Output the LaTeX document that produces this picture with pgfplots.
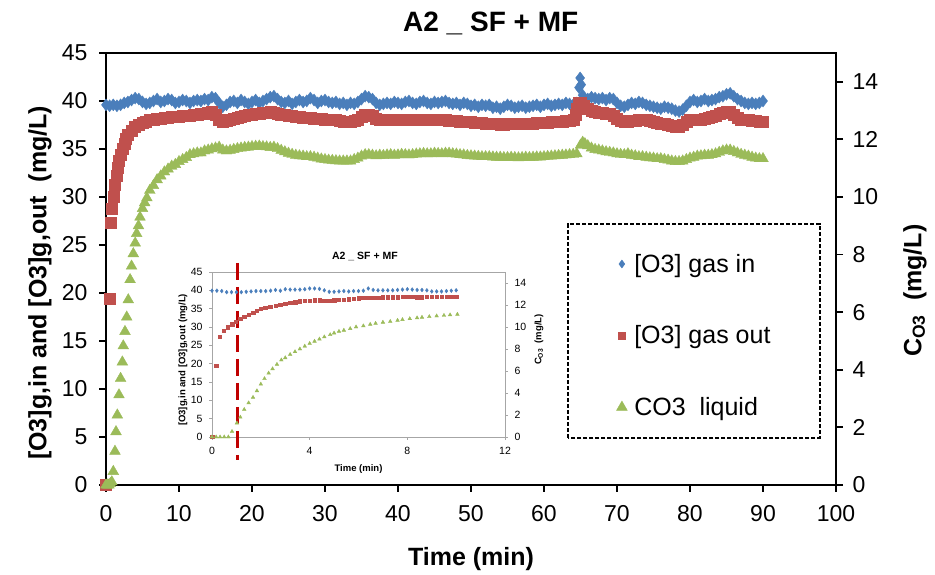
\documentclass[border=0pt]{standalone}
\usepackage{pgfplots}
\pgfplotsset{compat=1.18}
\usepackage{pgfplotstable}
\usepackage{fontspec}
\setmainfont{Liberation Sans}
\definecolor{cblue}{HTML}{4A7EBB}
\definecolor{cred}{HTML}{C0504D}
\definecolor{cgreen}{HTML}{9BBB59}
\definecolor{dashred}{HTML}{C00000}
\definecolor{inaxis}{HTML}{A6A6A6}

% ---------- main chart data ----------
\pgfplotstableread[row sep=\\]{x y\\
0 39.6\\ 0.5 39.5\\ 1 39.6\\ 1.5 39.5\\ 2 39.6\\ 2.5 39.8\\ 3 39.9\\ 3.5 40.1\\ 4 40.3\\ 4.5 40.2\\
5 39.9\\ 5.5 39.7\\ 6 39.8\\ 6.5 40.0\\ 7 40.2\\ 7.5 39.9\\ 8 40.0\\ 8.5 40.2\\ 9 40.1\\ 9.5 39.8\\
10 39.9\\ 10.5 40.1\\ 11 40.0\\ 11.5 39.8\\ 12 40.0\\ 12.5 40.1\\ 13 40.0\\ 13.5 40.2\\ 14 40.1\\ 14.5 40.4\\
15 40.3\\ 15.5 39.8\\ 16 39.4\\ 16.5 39.6\\ 17 39.9\\ 17.5 40.0\\ 18 39.8\\ 18.5 40.1\\ 19 39.9\\ 19.5 39.7\\
20 39.9\\ 20.5 40.1\\ 21 39.8\\ 21.5 40.0\\ 22 40.2\\ 22.5 40.4\\ 23 40.5\\ 23.5 40.2\\ 24 39.9\\ 24.5 39.8\\
25 40.0\\ 25.5 39.7\\ 26 39.9\\ 26.5 40.1\\ 27 39.9\\ 27.5 40.0\\ 28 40.3\\ 28.5 40.1\\ 29 39.8\\ 29.5 40.0\\
30 40.1\\ 30.5 39.9\\ 31 39.8\\ 31.5 39.9\\ 32 39.7\\ 32.5 39.8\\ 33 39.6\\ 33.5 39.8\\ 34 39.7\\ 34.5 39.9\\
35 40.2\\ 35.5 40.5\\ 36 40.4\\ 36.5 40.2\\ 37 39.8\\ 37.5 39.6\\ 38 39.7\\ 38.5 39.8\\ 39 39.7\\ 39.5 39.9\\
40 39.8\\ 40.5 39.7\\ 41 39.9\\ 41.5 40.0\\ 42 39.8\\ 42.5 39.7\\ 43 39.9\\ 43.5 40.0\\ 44 39.8\\ 44.5 39.7\\
45 39.9\\ 45.5 39.8\\ 46 39.9\\ 46.5 40.0\\ 47 39.8\\ 47.5 39.7\\ 48 39.8\\ 48.5 39.6\\ 49 39.8\\ 49.5 39.7\\
50 39.5\\ 50.5 39.6\\ 51 39.4\\ 51.5 39.6\\ 52 39.5\\ 52.5 39.6\\ 53 39.3\\ 53.5 39.4\\ 54 39.2\\ 54.5 39.4\\
55 39.6\\ 55.5 39.5\\ 56 39.3\\ 56.5 39.4\\ 57 39.5\\ 57.5 39.3\\ 58 39.4\\ 58.5 39.5\\ 59 39.6\\ 59.5 39.4\\
60 39.6\\ 60.5 39.7\\ 61 39.5\\ 61.5 39.6\\ 62 39.7\\ 62.5 39.6\\ 63 39.8\\ 63.5 39.7\\ 64 39.6\\ 64.5 39.8\\
64.8 41.4\\ 64.95 42.4\\ 65.1 41.7\\ 65.3 40.6\\ 65.5 40.3\\ 66 40.2\\ 66.5 40.4\\ 67 40.3\\ 67.5 40.2\\ 68 40.3\\
68.5 40.1\\ 69 40.3\\ 69.5 40.2\\ 70 39.8\\ 70.5 39.5\\ 71 39.4\\ 71.5 39.6\\ 72 39.8\\ 72.5 39.7\\ 73 39.9\\
73.5 39.8\\ 74 39.6\\ 74.5 39.5\\ 75 39.4\\ 75.5 39.3\\ 76 39.2\\ 76.5 39.4\\ 77 39.3\\ 77.5 39.2\\ 78 39.0\\
78.5 38.9\\ 79 39.1\\ 79.5 39.5\\ 80 39.9\\ 80.5 40.1\\ 81 39.9\\ 81.5 40.0\\ 82 40.2\\ 82.5 40.0\\ 83 40.1\\
83.5 40.2\\ 84 40.4\\ 84.5 40.5\\ 85 40.7\\ 85.5 40.8\\ 86 40.5\\ 86.5 40.2\\ 87 40.0\\ 87.5 39.8\\ 88 39.7\\
88.5 39.8\\ 89 39.7\\ 89.5 39.8\\ 90 40.0\\
}\blueMain

\pgfplotstableread[row sep=\\]{x y\\
0 0\\ 0.55 19.4\\ 0.65 27.3\\ 0.8 28.8\\ 1.0 30.0\\ 1.2 31.3\\ 1.4 32.2\\ 1.6 33.0\\ 1.8 33.8\\ 2.0 34.4\\
2.25 35.0\\ 2.5 35.5\\ 2.75 36.1\\ 3.0 36.5\\ 3.5 36.9\\ 4.0 37.3\\ 4.5 37.5\\ 5.0 37.7\\ 5.5 37.8\\ 6 38.0\\
6.5 38.1\\ 7 38.2\\ 7.5 38.2\\ 8 38.3\\ 8.5 38.3\\ 9 38.4\\ 9.5 38.4\\ 10 38.4\\ 10.5 38.5\\ 11 38.5\\
11.5 38.5\\ 12 38.6\\ 12.5 38.6\\ 13 38.7\\ 13.5 38.7\\ 14 38.8\\ 14.5 38.9\\ 15 38.6\\ 15.5 38.0\\ 16 37.8\\
16.5 37.9\\ 17 38.0\\ 17.5 38.2\\ 18 38.3\\ 18.5 38.4\\ 19 38.5\\ 19.5 38.6\\ 20 38.6\\ 20.5 38.7\\ 21 38.7\\
21.5 38.8\\ 22 38.8\\ 22.5 38.9\\ 23 38.8\\ 23.5 38.7\\ 24 38.6\\ 24.5 38.6\\ 25 38.5\\ 25.5 38.5\\ 26 38.4\\
26.5 38.4\\ 27 38.3\\ 27.5 38.3\\ 28 38.3\\ 28.5 38.2\\ 29 38.2\\ 29.5 38.2\\ 30 38.1\\ 30.5 38.1\\ 31 38.1\\
31.5 38.0\\ 32 37.9\\ 32.5 37.8\\ 33 37.8\\ 33.5 37.8\\ 34 37.9\\ 34.5 38.1\\ 35 38.4\\ 35.5 38.6\\ 36 38.6\\
36.5 38.5\\ 37 38.2\\ 37.5 38.0\\ 38 38.0\\ 38.5 38.0\\ 39 38.0\\ 39.5 38.0\\ 40 38.0\\ 40.5 38.0\\ 41 38.1\\
41.5 38.1\\ 42 38.0\\ 42.5 38.1\\ 43 38.1\\ 43.5 38.1\\ 44 38.1\\ 44.5 38.1\\ 45 38.0\\ 45.5 38.0\\ 46 38.0\\
46.5 38.0\\ 47 37.9\\ 47.5 37.9\\ 48 37.9\\ 48.5 37.8\\ 49 37.8\\ 49.5 37.8\\ 50 37.8\\ 50.5 37.7\\ 51 37.7\\
51.5 37.7\\ 52 37.6\\ 52.5 37.6\\ 53 37.6\\ 53.5 37.6\\ 54 37.5\\ 54.5 37.5\\ 55 37.6\\ 55.5 37.6\\ 56 37.6\\
56.5 37.6\\ 57 37.6\\ 57.5 37.6\\ 58 37.6\\ 58.5 37.6\\ 59 37.7\\ 59.5 37.7\\ 60 37.7\\ 60.5 37.7\\ 61 37.8\\
61.5 37.8\\ 62 37.8\\ 62.5 37.8\\ 63 37.9\\ 63.5 37.9\\ 64 38.0\\ 64.3 38.6\\ 64.5 39.2\\ 64.7 39.8\\ 65 39.8\\
65.5 39.5\\ 66 39.2\\ 66.5 39.0\\ 67 38.9\\ 67.5 38.8\\ 68 38.8\\ 68.5 38.7\\ 69 38.7\\ 69.5 38.5\\ 70 38.2\\
70.5 37.9\\ 71 37.8\\ 71.5 37.8\\ 72 37.9\\ 72.5 37.9\\ 73 38.0\\ 73.5 38.0\\ 74 38.0\\ 74.5 37.9\\ 75 37.8\\
75.5 37.7\\ 76 37.6\\ 76.5 37.6\\ 77 37.5\\ 77.5 37.4\\ 78 37.3\\ 78.5 37.3\\ 79 37.5\\ 79.5 37.8\\ 80 38.0\\
80.5 38.0\\ 81 38.1\\ 81.5 38.1\\ 82 38.2\\ 82.5 38.3\\ 83 38.4\\ 83.5 38.5\\ 84 38.7\\ 84.5 38.8\\ 85 38.9\\
85.5 38.9\\ 86 38.6\\ 86.5 38.3\\ 87 38.1\\ 87.5 38.0\\ 88 38.0\\ 88.5 37.9\\ 89 37.9\\ 89.5 37.8\\ 90 37.8\\
}\redMain

\pgfplotstableread[row sep=\\]{x y\\
0 0\\ 0.2 0\\ 0.4 0\\ 0.6 0.05\\ 0.8 0.11\\ 1.0 0.47\\ 1.23 1.17\\ 1.37 1.85\\ 1.55 2.43\\ 1.78 3.13\\
2.0 3.70\\ 2.24 4.27\\ 2.37 4.83\\ 2.6 5.33\\ 2.84 5.83\\ 3.05 6.43\\ 3.3 7.13\\ 3.5 7.6\\ 3.74 8.03\\ 4.0 8.4\\
4.2 8.73\\ 4.45 9.0\\ 4.66 9.3\\ 5.0 9.6\\ 5.3 9.8\\ 5.6 9.97\\ 6.0 10.23\\ 6.5 10.4\\ 7.0 10.6\\ 7.5 10.73\\
8.0 10.87\\ 8.5 10.97\\ 9.0 11.07\\ 9.5 11.13\\ 10 11.23\\ 10.5 11.3\\ 11 11.37\\ 11.5 11.47\\ 12 11.5\\ 12.5 11.53\\
13 11.53\\ 13.5 11.6\\ 14 11.63\\ 14.5 11.67\\ 15 11.7\\ 15.5 11.73\\ 16 11.63\\ 16.5 11.6\\ 17 11.62\\ 17.5 11.65\\
18 11.68\\ 18.5 11.7\\ 19 11.72\\ 19.5 11.73\\ 20 11.75\\ 20.5 11.76\\ 21 11.77\\ 21.5 11.75\\ 22 11.74\\ 22.5 11.72\\
23 11.73\\ 23.5 11.68\\ 24 11.62\\ 24.5 11.57\\ 25 11.52\\ 25.5 11.48\\ 26 11.45\\ 26.5 11.43\\ 27 11.42\\ 27.5 11.4\\
28 11.4\\ 28.5 11.38\\ 29 11.35\\ 29.5 11.32\\ 30 11.3\\ 30.5 11.28\\ 31 11.27\\ 31.5 11.26\\ 32 11.25\\ 32.5 11.25\\
33 11.25\\ 33.5 11.25\\ 34 11.3\\ 34.5 11.35\\ 35 11.42\\ 35.5 11.47\\ 36 11.47\\ 36.5 11.45\\ 37 11.43\\ 37.5 11.45\\
38 11.44\\ 38.5 11.46\\ 39 11.47\\ 39.5 11.45\\ 40 11.46\\ 40.5 11.48\\ 41 11.47\\ 41.5 11.46\\ 42 11.47\\ 42.5 11.49\\
43 11.5\\ 43.5 11.51\\ 44 11.5\\ 44.5 11.5\\ 45 11.52\\ 45.5 11.51\\ 46 11.5\\ 46.5 11.52\\ 47 11.52\\ 47.5 11.5\\
48 11.49\\ 48.5 11.47\\ 49 11.46\\ 49.5 11.44\\ 50 11.43\\ 50.5 11.42\\ 51 11.41\\ 51.5 11.40\\ 52 11.40\\ 52.5 11.40\\
53 11.39\\ 53.5 11.38\\ 54 11.38\\ 54.5 11.37\\ 55 11.37\\ 55.5 11.38\\ 56 11.37\\ 56.5 11.36\\ 57 11.37\\ 57.5 11.38\\
58 11.37\\ 58.5 11.38\\ 59 11.39\\ 59.5 11.39\\ 60 11.4\\ 60.5 11.41\\ 61 11.42\\ 61.5 11.43\\ 62 11.44\\ 62.5 11.45\\
63 11.46\\ 63.5 11.47\\ 64 11.48\\ 64.5 11.5\\ 65 11.8\\ 65.3 11.9\\ 65.6 11.85\\ 66 11.78\\ 66.5 11.7\\ 67 11.65\\
67.5 11.63\\ 68 11.6\\ 68.5 11.57\\ 69 11.55\\ 69.5 11.53\\ 70 11.5\\ 70.5 11.48\\ 71 11.47\\ 71.5 11.5\\ 72 11.45\\
72.5 11.43\\ 73 11.4\\ 73.5 11.4\\ 74 11.38\\ 74.5 11.36\\ 75 11.35\\ 75.5 11.33\\ 76 11.33\\ 76.5 11.3\\ 77 11.28\\
77.5 11.25\\ 78 11.23\\ 78.5 11.23\\ 79 11.25\\ 79.5 11.3\\ 80 11.35\\ 80.5 11.38\\ 81 11.42\\ 81.5 11.43\\ 82 11.45\\
82.5 11.45\\ 83 11.47\\ 83.5 11.5\\ 84 11.55\\ 84.5 11.6\\ 85 11.63\\ 85.5 11.63\\ 86 11.58\\ 86.5 11.53\\ 87 11.48\\
87.5 11.45\\ 88 11.42\\ 88.5 11.38\\ 89 11.35\\ 89.5 11.33\\ 90 11.33\\
}\greenMain

% ---------- inset data ----------
\pgfplotstableread[row sep=\\]{x y\\
0 39.9\\ 0.2 39.9\\ 0.4 39.8\\ 0.6 39.5\\ 0.8 39.5\\ 1.0 39.5\\ 1.2 39.5\\ 1.4 39.6\\ 1.6 39.7\\ 1.8 39.8\\
2.0 39.8\\ 2.2 39.8\\ 2.4 39.9\\ 2.6 40.1\\ 2.8 39.9\\ 3.0 40.3\\ 3.2 40.2\\ 3.4 40.2\\ 3.6 40.2\\ 3.8 40.3\\
4.0 40.5\\ 4.2 40.5\\ 4.4 40.4\\ 4.6 40.0\\ 4.8 39.6\\ 5.0 39.6\\ 5.2 39.7\\ 5.4 39.8\\ 5.6 39.7\\ 5.8 39.8\\
6.0 39.8\\ 6.2 39.9\\ 6.4 40.5\\ 6.6 40.1\\ 6.8 40.0\\ 7.0 40.0\\ 7.2 40.0\\ 7.4 40.0\\ 7.6 40.1\\ 7.8 40.2\\
8.0 40.3\\ 8.2 40.2\\ 8.4 40.1\\ 8.6 40.1\\ 8.8 40.0\\ 9.0 39.7\\ 9.2 39.7\\ 9.4 39.7\\ 9.6 39.8\\ 9.8 39.9\\
10.0 40.0\\
}\blueIn

\pgfplotstableread[row sep=\\]{x y\\
0 0\\ 0.18 19.4\\ 0.31 27.3\\ 0.48 29.0\\ 0.64 29.9\\ 0.82 30.8\\ 0.98 31.5\\ 1.16 32.2\\ 1.32 32.8\\ 1.5 33.4\\
1.68 33.9\\ 1.84 34.5\\ 2.0 35.0\\ 2.18 35.3\\ 2.39 35.6\\ 2.6 35.8\\ 2.8 36.0\\ 3.0 36.3\\ 3.2 36.6\\ 3.4 36.8\\
3.6 37.0\\ 3.8 37.1\\ 4.0 37.2\\ 4.2 37.3\\ 4.4 37.3\\ 4.6 37.2\\ 4.8 37.2\\ 5.0 37.3\\ 5.2 37.4\\ 5.4 37.5\\
5.6 37.6\\ 5.8 37.7\\ 6.0 37.9\\ 6.2 38.0\\ 6.4 38.0\\ 6.6 38.0\\ 6.8 38.0\\ 7.0 38.1\\ 7.2 38.1\\ 7.4 38.1\\
7.6 38.1\\ 7.8 38.2\\ 8.0 38.2\\ 8.2 38.2\\ 8.4 38.1\\ 8.6 38.1\\ 8.8 38.2\\ 9.0 38.2\\ 9.2 38.2\\ 9.4 38.2\\
9.6 38.3\\ 9.8 38.3\\ 10.0 38.3\\
}\redIn

\pgfplotstableread[row sep=\\]{x y\\
0 0\\ 0.17 0\\ 0.33 0\\ 0.5 0\\ 0.67 0\\ 0.82 0.5\\ 1.02 1.27\\ 1.16 1.8\\ 1.32 2.5\\ 1.5 3.1\\
1.68 3.6\\ 1.84 4.2\\ 2.0 4.8\\ 2.15 5.3\\ 2.32 5.8\\ 2.48 6.2\\ 2.66 6.6\\ 2.84 7.0\\ 3.0 7.2\\ 3.2 7.5\\
3.4 7.75\\ 3.6 8.0\\ 3.8 8.25\\ 4.0 8.5\\ 4.2 8.7\\ 4.4 8.9\\ 4.6 9.1\\ 4.84 9.3\\ 5.0 9.45\\ 5.2 9.6\\
5.4 9.7\\ 5.66 9.85\\ 5.9 10.0\\ 6.2 10.1\\ 6.48 10.24\\ 6.7 10.33\\ 7.0 10.43\\ 7.3 10.5\\ 7.6 10.6\\ 7.8 10.67\\
8.1 10.75\\ 8.4 10.83\\ 8.6 10.88\\ 8.9 10.94\\ 9.2 11.0\\ 9.5 11.05\\ 9.75 11.1\\ 10.05 11.15\\
}\greenIn

\pgfplotsset{
  mainax/.style={
    scale only axis, width=730pt, height=432pt,
    at={(0pt,0pt)}, anchor=south west,
    xmin=0, xmax=100, clip=false,
    /pgf/number format/assume math mode=true,
    ticklabel style={font=\fontsize{23}{23}\selectfont},
    tick align=outside, major tick length=7pt,
    axis line style={line width=1.8pt},
    tick style={black, line width=1.8pt},
    label style={font=\bfseries\fontsize{25}{28}\selectfont},
  },
  inax/.style={
    scale only axis, width=293pt, height=165pt,
    at={(106pt,48pt)}, anchor=south west,
    xmin=0, xmax=12, clip=false,
    /pgf/number format/assume math mode=true,
    ticklabel style={font=\fontsize{10.5}{10.5}\selectfont},
    tick align=outside, major tick length=3pt,
    axis line style={inaxis, line width=0.8pt},
    tick style={inaxis, line width=0.8pt},
    label style={font=\bfseries\fontsize{9.5}{11}\selectfont},
  },
}

\begin{document}
\begin{tikzpicture}
\path[use as bounding box] (-106pt,-90pt) rectangle (829pt,485pt);

% ---------------- main chart: left axis ----------------
\begin{axis}[mainax,
  ymin=0, ymax=45,
  xtick={0,10,...,100}, ytick={0,5,...,45},
  tick pos=left,
  xticklabel style={anchor=north, yshift=-10pt},
  yticklabel style={anchor=east, xshift=-8pt},
  xlabel={Time (min)},
  xlabel style={at={(axis description cs:0.5,0)}, anchor=base, yshift=-81pt},
  ylabel={[O3]g,in and [O3]g,out\ \ (mg/L)},
  ylabel style={at={(axis description cs:-0.0904,0.468)}, anchor=center},
  title={A2 \_ SF + MF},
  title style={at={(axis description cs:0.527,1)}, anchor=base, yshift=15pt,
               font=\bfseries\fontsize{28}{30}\selectfont},
]
\addplot[only marks, mark=diamond*, mark size=6pt, mark options={draw=cblue, fill=cblue}] table {\blueMain};
\addplot[only marks, mark=square*, mark size=5.5pt, mark options={draw=cred, fill=cred}] table {\redMain};
\end{axis}

% ---------------- main chart: right axis ----------------
\begin{axis}[mainax,
  ymin=0, ymax=15,
  axis x line=none, axis y line*=right,
  ytick={0,2,...,14},
  yticklabel style={anchor=west, xshift=6pt},
  ylabel={C\textsubscript{O3}\ \ (mg/L)},
  ylabel style={at={(axis description cs:1.108,0.45)}, anchor=center},
  legend style={at={(axis description cs:0.695,0.544)}, anchor=north west,
    draw=none, fill=none, row sep=48pt,
    font=\fontsize{25}{25}\selectfont,
    /tikz/every odd column/.append style={column sep=5pt}},
  legend cell align=left,
]
\addlegendimage{only marks, mark=diamond*, mark size=4pt, mark options={draw=cblue, fill=cblue}}
\addlegendentry{[O3] gas in}
\addlegendimage{only marks, mark=square*, mark size=3.5pt, mark options={draw=cred, fill=cred}}
\addlegendentry{[O3] gas out}
\addplot[only marks, mark=triangle*, mark size=6.2pt, mark options={draw=cgreen, fill=cgreen}] table {\greenMain};
\addlegendentry{CO3\ \ liquid}
\draw[black, line width=1.2pt, dash pattern=on 4pt off 2pt]
  (axis description cs:0.633,0.109) rectangle (axis description cs:0.978,0.604);
\end{axis}

% ---------------- inset: left axis ----------------
\begin{axis}[inax,
  ymin=0, ymax=45,
  xtick={0,4,8,12}, ytick={0,5,...,45},
  tick pos=left,
  xticklabel style={anchor=north, yshift=-4pt},
  yticklabel style={anchor=east, xshift=-3pt},
  xlabel={Time (min)},
  xlabel style={at={(axis description cs:0.5,0)}, anchor=base, yshift=-35pt},
  ylabel={[O3]g,in and [O3]g,out (mg/L)},
  ylabel style={at={(axis description cs:-0.099,0.467)}, anchor=center},
  title={A2 \_ SF + MF},
  title style={at={(axis description cs:0.522,1)}, anchor=base, yshift=6pt,
               font=\bfseries\fontsize{10.5}{12}\selectfont},
]
\addplot[only marks, mark=diamond*, mark size=1.9pt, mark options={draw=cblue, fill=cblue}] table {\blueIn};
\addplot[only marks, mark=square*, mark size=1.7pt, mark options={draw=cred, fill=cred}] table {\redIn};
\addplot[dashred, line width=3.5pt, dash pattern=on 17pt off 7pt, forget plot] coordinates {(1.05,47.5) (1.05,-6.4)};
\end{axis}

% ---------------- inset: right axis ----------------
\begin{axis}[inax,
  ymin=0, ymax=15,
  axis x line=none, axis y line*=right,
  ytick={0,2,...,14},
  yticklabel style={anchor=west, xshift=3pt},
  ylabel={C\textsubscript{O3}\ \ (mg/L)},
  ylabel style={at={(axis description cs:1.116,0.59)}, anchor=center},
]
\addplot[only marks, mark=triangle*, mark size=2.1pt, mark options={draw=cgreen, fill=cgreen}] table {\greenIn};
\end{axis}
\end{tikzpicture}
\end{document}
